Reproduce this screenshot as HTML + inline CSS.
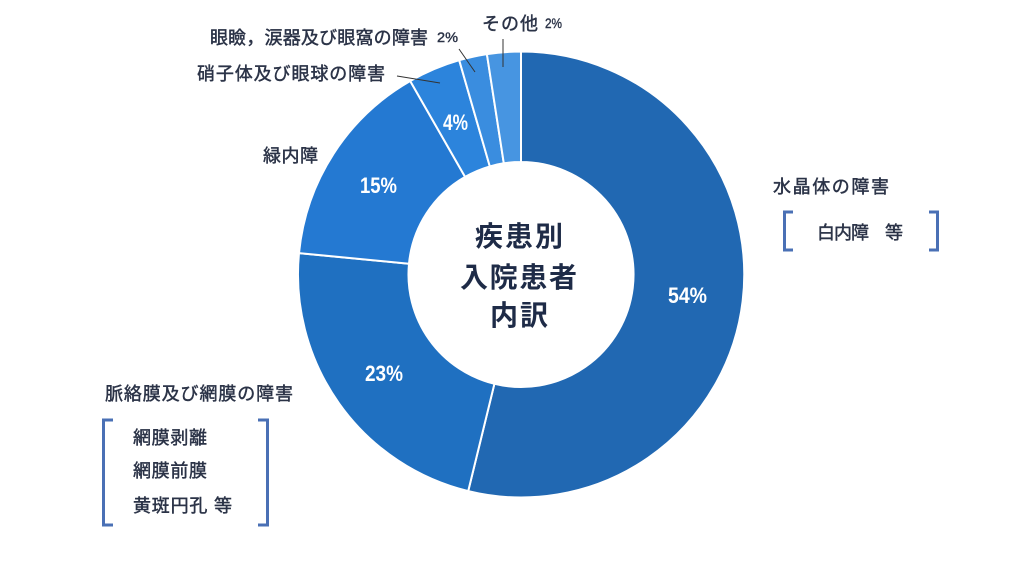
<!DOCTYPE html>
<html>
<head>
<meta charset="utf-8">
<style>
html,body{margin:0;padding:0;background:#fff;}
svg{display:block;}
.lb{font-family:"Liberation Sans","Noto Sans CJK JP",sans-serif;font-size:18px;font-weight:normal;fill:#2b3347;stroke:#2b3347;stroke-width:0.45px;}
.pc{font-family:"Liberation Sans",sans-serif;font-size:22px;font-weight:bold;fill:#fff;}
.sm{font-family:"Liberation Sans",sans-serif;font-size:14px;fill:#2b3347;stroke:#2b3347;stroke-width:0.4px;}
.ct{font-family:"Liberation Sans","Noto Sans CJK JP",sans-serif;font-size:28px;font-weight:bold;fill:#1e2b47;}
</style>
</head>
<body>
<svg width="1024" height="576" viewBox="0 0 1024 576" xmlns="http://www.w3.org/2000/svg">
<rect width="1024" height="576" fill="#fff"/>
<g stroke="#fff" stroke-width="2" stroke-linejoin="round">
<path fill="#2168b2" d="M521,51.5 A223,223 0 1 1 468.2,491.1 L494.4,383.8 A112.5,112.5 0 1 0 521,162 Z"/>
<path fill="#1f70c1" d="M468.2,491.1 A223,223 0 0 1 299.0,253.1 L409.0,263.7 A112.5,112.5 0 0 0 494.4,383.8 Z"/>
<path fill="#2479d2" d="M299.0,253.1 A223,223 0 0 1 410.2,81.0 L465.1,176.9 A112.5,112.5 0 0 0 409.0,263.7 Z"/>
<path fill="#2c84dc" d="M410.2,81.0 A223,223 0 0 1 459.2,60.2 L489.8,166.4 A112.5,112.5 0 0 0 465.1,176.9 Z"/>
<path fill="#3a8ddf" d="M459.2,60.2 A223,223 0 0 1 486.9,54.1 L503.8,163.3 A112.5,112.5 0 0 0 489.8,166.4 Z"/>
<path fill="#4795e1" d="M486.9,54.1 A223,223 0 0 1 521,51.5 L521,162 A112.5,112.5 0 0 0 503.8,163.3 Z"/>
</g>

<!-- leader lines -->
<g stroke="#333" stroke-width="1" fill="none">
<line x1="397" y1="76" x2="440" y2="83"/>
<line x1="459" y1="49" x2="475" y2="72"/>
<line x1="503" y1="39" x2="503" y2="67"/>
</g>

<!-- percentages -->
<text class="pc" x="668" y="303" textLength="39" lengthAdjust="spacingAndGlyphs">54%</text>
<text class="pc" x="365" y="381" textLength="38" lengthAdjust="spacingAndGlyphs">23%</text>
<text class="pc" x="360" y="193" textLength="37" lengthAdjust="spacingAndGlyphs">15%</text>
<text class="pc" x="443" y="130" textLength="25" lengthAdjust="spacingAndGlyphs">4%</text>

<!-- center text -->
<text class="ct" x="475" y="246" textLength="88" lengthAdjust="spacing">疾患別</text>
<text class="ct" x="460" y="287" textLength="117" lengthAdjust="spacing">入院患者</text>
<text class="ct" x="490" y="325" textLength="58" lengthAdjust="spacing">内訳</text>

<!-- labels -->
<text class="lb" x="773" y="193" textLength="116" lengthAdjust="spacing">水晶体の障害</text>
<text class="lb" x="817" y="239" textLength="86" lengthAdjust="spacing">白内障　等</text>

<text class="lb" x="105" y="400" textLength="188" lengthAdjust="spacing">脈絡膜及び網膜の障害</text>
<text class="lb" x="133" y="444" textLength="74" lengthAdjust="spacing">網膜剥離</text>
<text class="lb" x="133" y="477" textLength="74" lengthAdjust="spacing">網膜前膜</text>
<text class="lb" x="133" y="512" textLength="99" lengthAdjust="spacing">黄斑円孔 等</text>

<text class="lb" x="263" y="162" textLength="55" lengthAdjust="spacing">緑内障</text>
<text class="lb" x="197" y="80" textLength="188" lengthAdjust="spacing">硝子体及び眼球の障害</text>
<text class="lb" x="210" y="44" textLength="218" lengthAdjust="spacing">眼瞼，涙器及び眼窩の障害</text>
<text class="sm" x="437" y="42" textLength="21" lengthAdjust="spacingAndGlyphs">2%</text>
<text class="lb" x="482" y="30" textLength="56" lengthAdjust="spacing">その他</text>
<text class="sm" x="545" y="28" textLength="17" lengthAdjust="spacingAndGlyphs">2%</text>

<!-- brackets -->
<g stroke="#4a70b5" stroke-width="3" fill="none">
<path d="M793,212 L784.5,212 L784.5,250 L793,250"/>
<path d="M929,212 L937.5,212 L937.5,250 L929,250"/>
<path d="M113,420 L103.5,420 L103.5,525 L113,525"/>
<path d="M258,420 L267.5,420 L267.5,525 L258,525"/>
</g>
</svg>
</body>
</html>
